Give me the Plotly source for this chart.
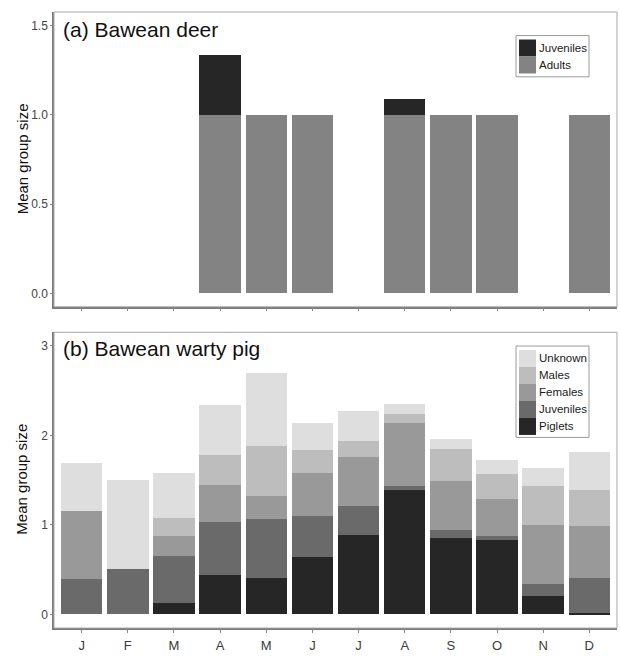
import plotly.graph_objects as go
from plotly.subplots import make_subplots

months = ["J", "F", "M", "A", "M", "J", "J", "A", "S", "O", "N", "D"]
month_pos = list(range(1, 13))

# (a) Bawean deer
deer_adults = [0, 0, 0, 1.0, 1.0, 1.0, 0, 1.0, 1.0, 1.0, 0, 1.0]
deer_juveniles = [0, 0, 0, 0.333, 0, 0, 0, 0.09, 0, 0, 0, 0]

# (b) Bawean warty pig
pig_piglets = [0, 0, 0.13, 0.44, 0.40, 0.64, 0.88, 1.39, 0.85, 0.83, 0.20, 0.01]
pig_juveniles = [0.39, 0.50, 0.52, 0.59, 0.66, 0.46, 0.33, 0.045, 0.095, 0.04, 0.14, 0.40]
pig_females = [0.76, 0, 0.22, 0.41, 0.255, 0.48, 0.54, 0.70, 0.54, 0.42, 0.66, 0.57]
pig_males = [0, 0, 0.20, 0.34, 0.565, 0.25, 0.18, 0.10, 0.365, 0.28, 0.43, 0.41]
pig_unknown = [0.54, 1.00, 0.51, 0.56, 0.81, 0.31, 0.34, 0.11, 0.11, 0.15, 0.20, 0.42]

deer_ticks = [0, 0.5, 1.0, 1.5]
deer_ticktext = ["0.0", "0.5", "1.0", "1.5"]
pig_ticks = [0, 1, 2, 3]
pig_ticktext = ["0", "1", "2", "3"]

C_DARK = "#262626"
C_JUV = "#6a6a6a"
C_FEM = "#999999"
C_MAL = "#bdbdbd"
C_UNK = "#dedede"
C_ADULT = "#838383"

W, H = 620, 656
ML, MR, MT, MB = 54, 3, 12, 17
PW, PH = W - ML - MR, H - MT - MB


def xp(px):
    return (px - ML) / PW


def yp(py):
    return (H - MB - py) / PH


fig = make_subplots(rows=2, cols=1, vertical_spacing=0.04)

for vals, name, col in [(deer_adults, "Adults", C_ADULT), (deer_juveniles, "Juveniles", C_DARK)]:
    fig.add_trace(go.Bar(x=month_pos, y=vals, name=name, width=0.9,
                         marker=dict(color=col, line=dict(width=0)), showlegend=False),
                  row=1, col=1)

for vals, name, col in [(pig_piglets, "Piglets", C_DARK), (pig_juveniles, "Juveniles", C_JUV),
                        (pig_females, "Females", C_FEM), (pig_males, "Males", C_MAL),
                        (pig_unknown, "Unknown", C_UNK)]:
    fig.add_trace(go.Bar(x=month_pos, y=vals, name=name, width=0.9,
                         marker=dict(color=col, line=dict(width=0)), showlegend=False),
                  row=2, col=1)

font_family = "Liberation Sans, Arial, Helvetica, sans-serif"

axis_common = dict(showgrid=False, zeroline=False, showline=True, linecolor="#7a7a7a",
                   linewidth=1.5, ticks="outside", ticklen=3, tickwidth=1, tickcolor="#8a8a8a",
                   tickfont=dict(family=font_family, size=12, color="#444444"))

fig.update_xaxes(range=[0.4, 12.6], tickvals=month_pos, ticktext=months, **axis_common)
fig.update_xaxes(showticklabels=False, row=1, col=1)
fig.update_xaxes(tickfont=dict(family=font_family, size=13, color="#3a3a3a"),
                 ticklabelstandoff=2, row=2, col=1)
fig.update_yaxes(**axis_common)
fig.update_yaxes(ticklen=2)
fig.update_yaxes(range=[-0.075, 1.575], tickvals=deer_ticks, ticktext=deer_ticktext,
                 domain=[yp(312), yp(12)], row=1, col=1)
fig.update_yaxes(range=[-0.15, 3.15], tickvals=pig_ticks, ticktext=pig_ticktext,
                 domain=[yp(639), yp(338)], row=2, col=1)

shapes = []
annotations = []
for xr, yr in [("x", "y"), ("x2", "y2")]:
    shapes.append(dict(type="rect", xref=xr + " domain", yref=yr + " domain", x0=0, x1=1, y0=0, y1=1,
                       line=dict(color="#a8a8a8", width=1), fillcolor="rgba(0,0,0,0)"))

# panel titles
annotations.append(dict(text="(a) Bawean deer", xref="paper", yref="paper", x=xp(61), y=yp(30),
                        xanchor="left", yanchor="middle", showarrow=False,
                        font=dict(family=font_family, size=21, color="#111111")))
annotations.append(dict(text="(b) Bawean warty pig", xref="paper", yref="paper", x=xp(61), y=yp(355),
                        xanchor="left", yanchor="middle", showarrow=False,
                        font=dict(family=font_family, size=21, color="#111111")))

# y-axis titles
for cy in [162, 488]:
    annotations.append(dict(text="Mean group size", xref="paper", yref="paper", x=xp(22), y=yp(cy),
                            xanchor="center", yanchor="middle", textangle=-90, showarrow=False,
                            font=dict(family=font_family, size=15, color="#111111")))


def add_legend(box_top, box_bottom, items):
    shapes.append(dict(type="rect", xref="paper", yref="paper", x0=xp(516), x1=xp(589),
                       y0=yp(box_bottom), y1=yp(box_top), line=dict(color="#9a9a9a", width=1),
                       fillcolor="white"))
    top = box_top + 4
    for i, (label, col) in enumerate(items):
        y0 = top + i * 17.3
        y1 = y0 + 17.3
        shapes.append(dict(type="rect", xref="paper", yref="paper", x0=xp(519), x1=xp(536),
                           y0=yp(y1), y1=yp(y0), line=dict(width=0), fillcolor=col))
        annotations.append(dict(text=label, xref="paper", yref="paper", x=xp(537), y=yp((y0 + y1) / 2),
                                xanchor="left", yanchor="middle", showarrow=False,
                                font=dict(family=font_family, size=11.5, color="#1a1a1a")))


add_legend(36, 78, [("Juveniles", C_DARK), ("Adults", C_ADULT)])
add_legend(352, 445, [("Unknown", C_UNK), ("Males", C_MAL), ("Females", C_FEM),
                      ("Juveniles", C_JUV), ("Piglets", C_DARK)])

fig.update_layout(width=W, height=H, margin=dict(l=ML, r=MR, t=MT, b=MB),
                  barmode="stack", bargap=0, plot_bgcolor="white", paper_bgcolor="white",
                  shapes=shapes, annotations=annotations, showlegend=False,
                  font=dict(family=font_family))

fig.write_html("out.html", config={"displayModeBar": False},
               post_script="document.body.style.margin='0';document.body.style.overflow='hidden';")
